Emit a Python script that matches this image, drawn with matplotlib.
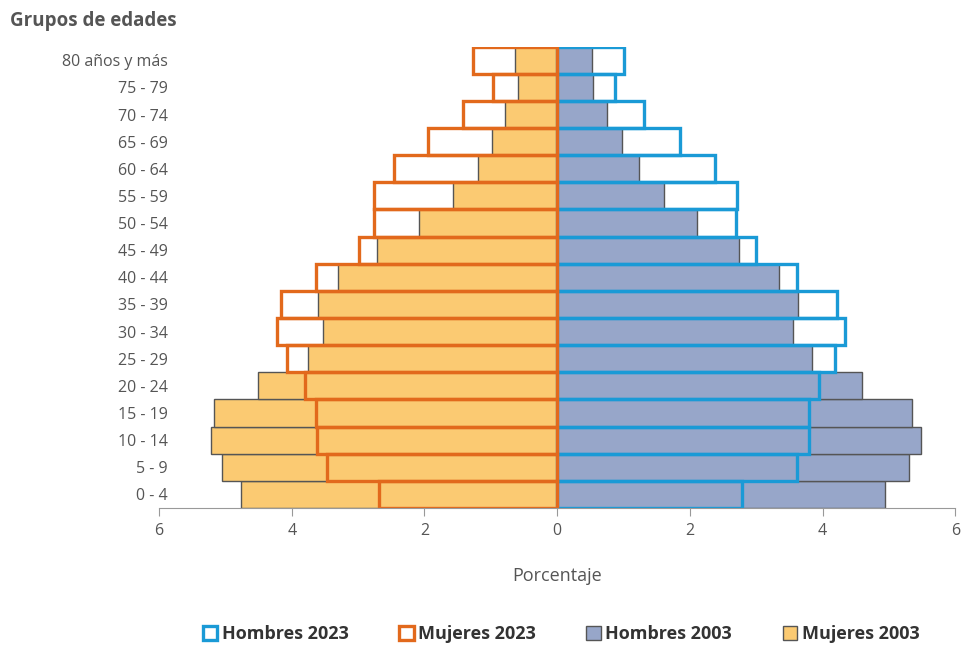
import matplotlib.pyplot as plt
from matplotlib.patches import Patch

plt.rcParams['font.family'] = ['Open Sans', 'DejaVu Sans']

grupos = ['0 - 4', '5 - 9', '10 - 14', '15 - 19', '20 - 24', '25 - 29', '30 - 34',
          '35 - 39', '40 - 44', '45 - 49', '50 - 54', '55 - 59', '60 - 64',
          '65 - 69', '70 - 74', '75 - 79', '80 años y más']

# porcentajes (de 0-4 a 80+)
hombres_2023 = [2.78, 3.62, 3.79, 3.79, 3.94, 4.19, 4.33, 4.22, 3.62, 3.00,
                2.70, 2.71, 2.38, 1.85, 1.31, 0.87, 1.00]
mujeres_2023 = [2.68, 3.47, 3.62, 3.63, 3.80, 4.07, 4.22, 4.16, 3.63, 2.98,
                2.76, 2.76, 2.46, 1.95, 1.42, 0.96, 1.27]
hombres_2003 = [4.94, 5.30, 5.48, 5.35, 4.59, 3.84, 3.56, 3.63, 3.34, 2.74,
                2.11, 1.61, 1.24, 0.98, 0.75, 0.54, 0.52]
mujeres_2003 = [4.76, 5.05, 5.22, 5.17, 4.51, 3.75, 3.53, 3.60, 3.30, 2.71,
                2.08, 1.57, 1.19, 0.98, 0.78, 0.59, 0.63]

azul = '#1a9ad6'
naranja = '#e2691c'
gris_azul = '#97a6c9'
amarillo = '#fbca72'
borde = '#555555'
texto = '#555555'

fig = plt.figure(figsize=(9.64, 6.48), dpi=100)
ax = fig.add_axes([0.165, 0.216, 0.826, 0.712])

y = range(len(grupos))

# 2003 primero (relleno), 2023 encima solo contorno
ax.barh(y, hombres_2003, height=1.0, color=gris_azul, edgecolor=borde, linewidth=1.0)
ax.barh(y, [-v for v in mujeres_2003], height=1.0, color=amarillo, edgecolor=borde, linewidth=1.0)
ax.barh(y, hombres_2023, height=1.0, fill=False, edgecolor=azul, linewidth=2.4)
ax.barh(y, [-v for v in mujeres_2023], height=1.0, fill=False, edgecolor=naranja, linewidth=2.4)

ax.set_xlim(-6, 6)
ax.set_ylim(-0.5, len(grupos) - 0.5)
ax.set_xticks([-6, -4, -2, 0, 2, 4, 6])
ax.set_xticklabels(['6', '4', '2', '0', '2', '4', '6'], color=texto, fontsize=11.5)
ax.set_yticks(list(y))
ax.set_yticklabels(grupos, color=texto, fontsize=11.5)
ax.tick_params(axis='y', length=0, pad=-6)
ax.tick_params(axis='x', length=6, color='#999999', pad=5)

for s in ['top', 'right', 'left']:
    ax.spines[s].set_visible(False)
ax.spines['bottom'].set_color('#999999')

ax.set_xlabel('Porcentaje', color=texto, fontsize=13, labelpad=20)
fig.text(0.01, 0.96, 'Grupos de edades', color=texto, fontsize=13.5, fontweight='bold')

handles = [
    Patch(facecolor='white', edgecolor=azul, linewidth=2.4, label='Hombres 2023'),
    Patch(facecolor='white', edgecolor=naranja, linewidth=2.4, label='Mujeres 2023'),
    Patch(facecolor=gris_azul, edgecolor=borde, linewidth=1.0, label='Hombres 2003'),
    Patch(facecolor=amarillo, edgecolor=borde, linewidth=1.0, label='Mujeres 2003'),
]
leg = fig.legend(handles=handles, loc='lower center', ncol=4, frameon=False,
                 bbox_to_anchor=(0.582, -0.018), handlelength=0.8, handleheight=0.8,
                 handletextpad=0.25, columnspacing=2.8,
                 prop={'weight': 'bold', 'size': 13})
for t in leg.get_texts():
    t.set_color('#333333')

fig.savefig('out.png', dpi=100)
